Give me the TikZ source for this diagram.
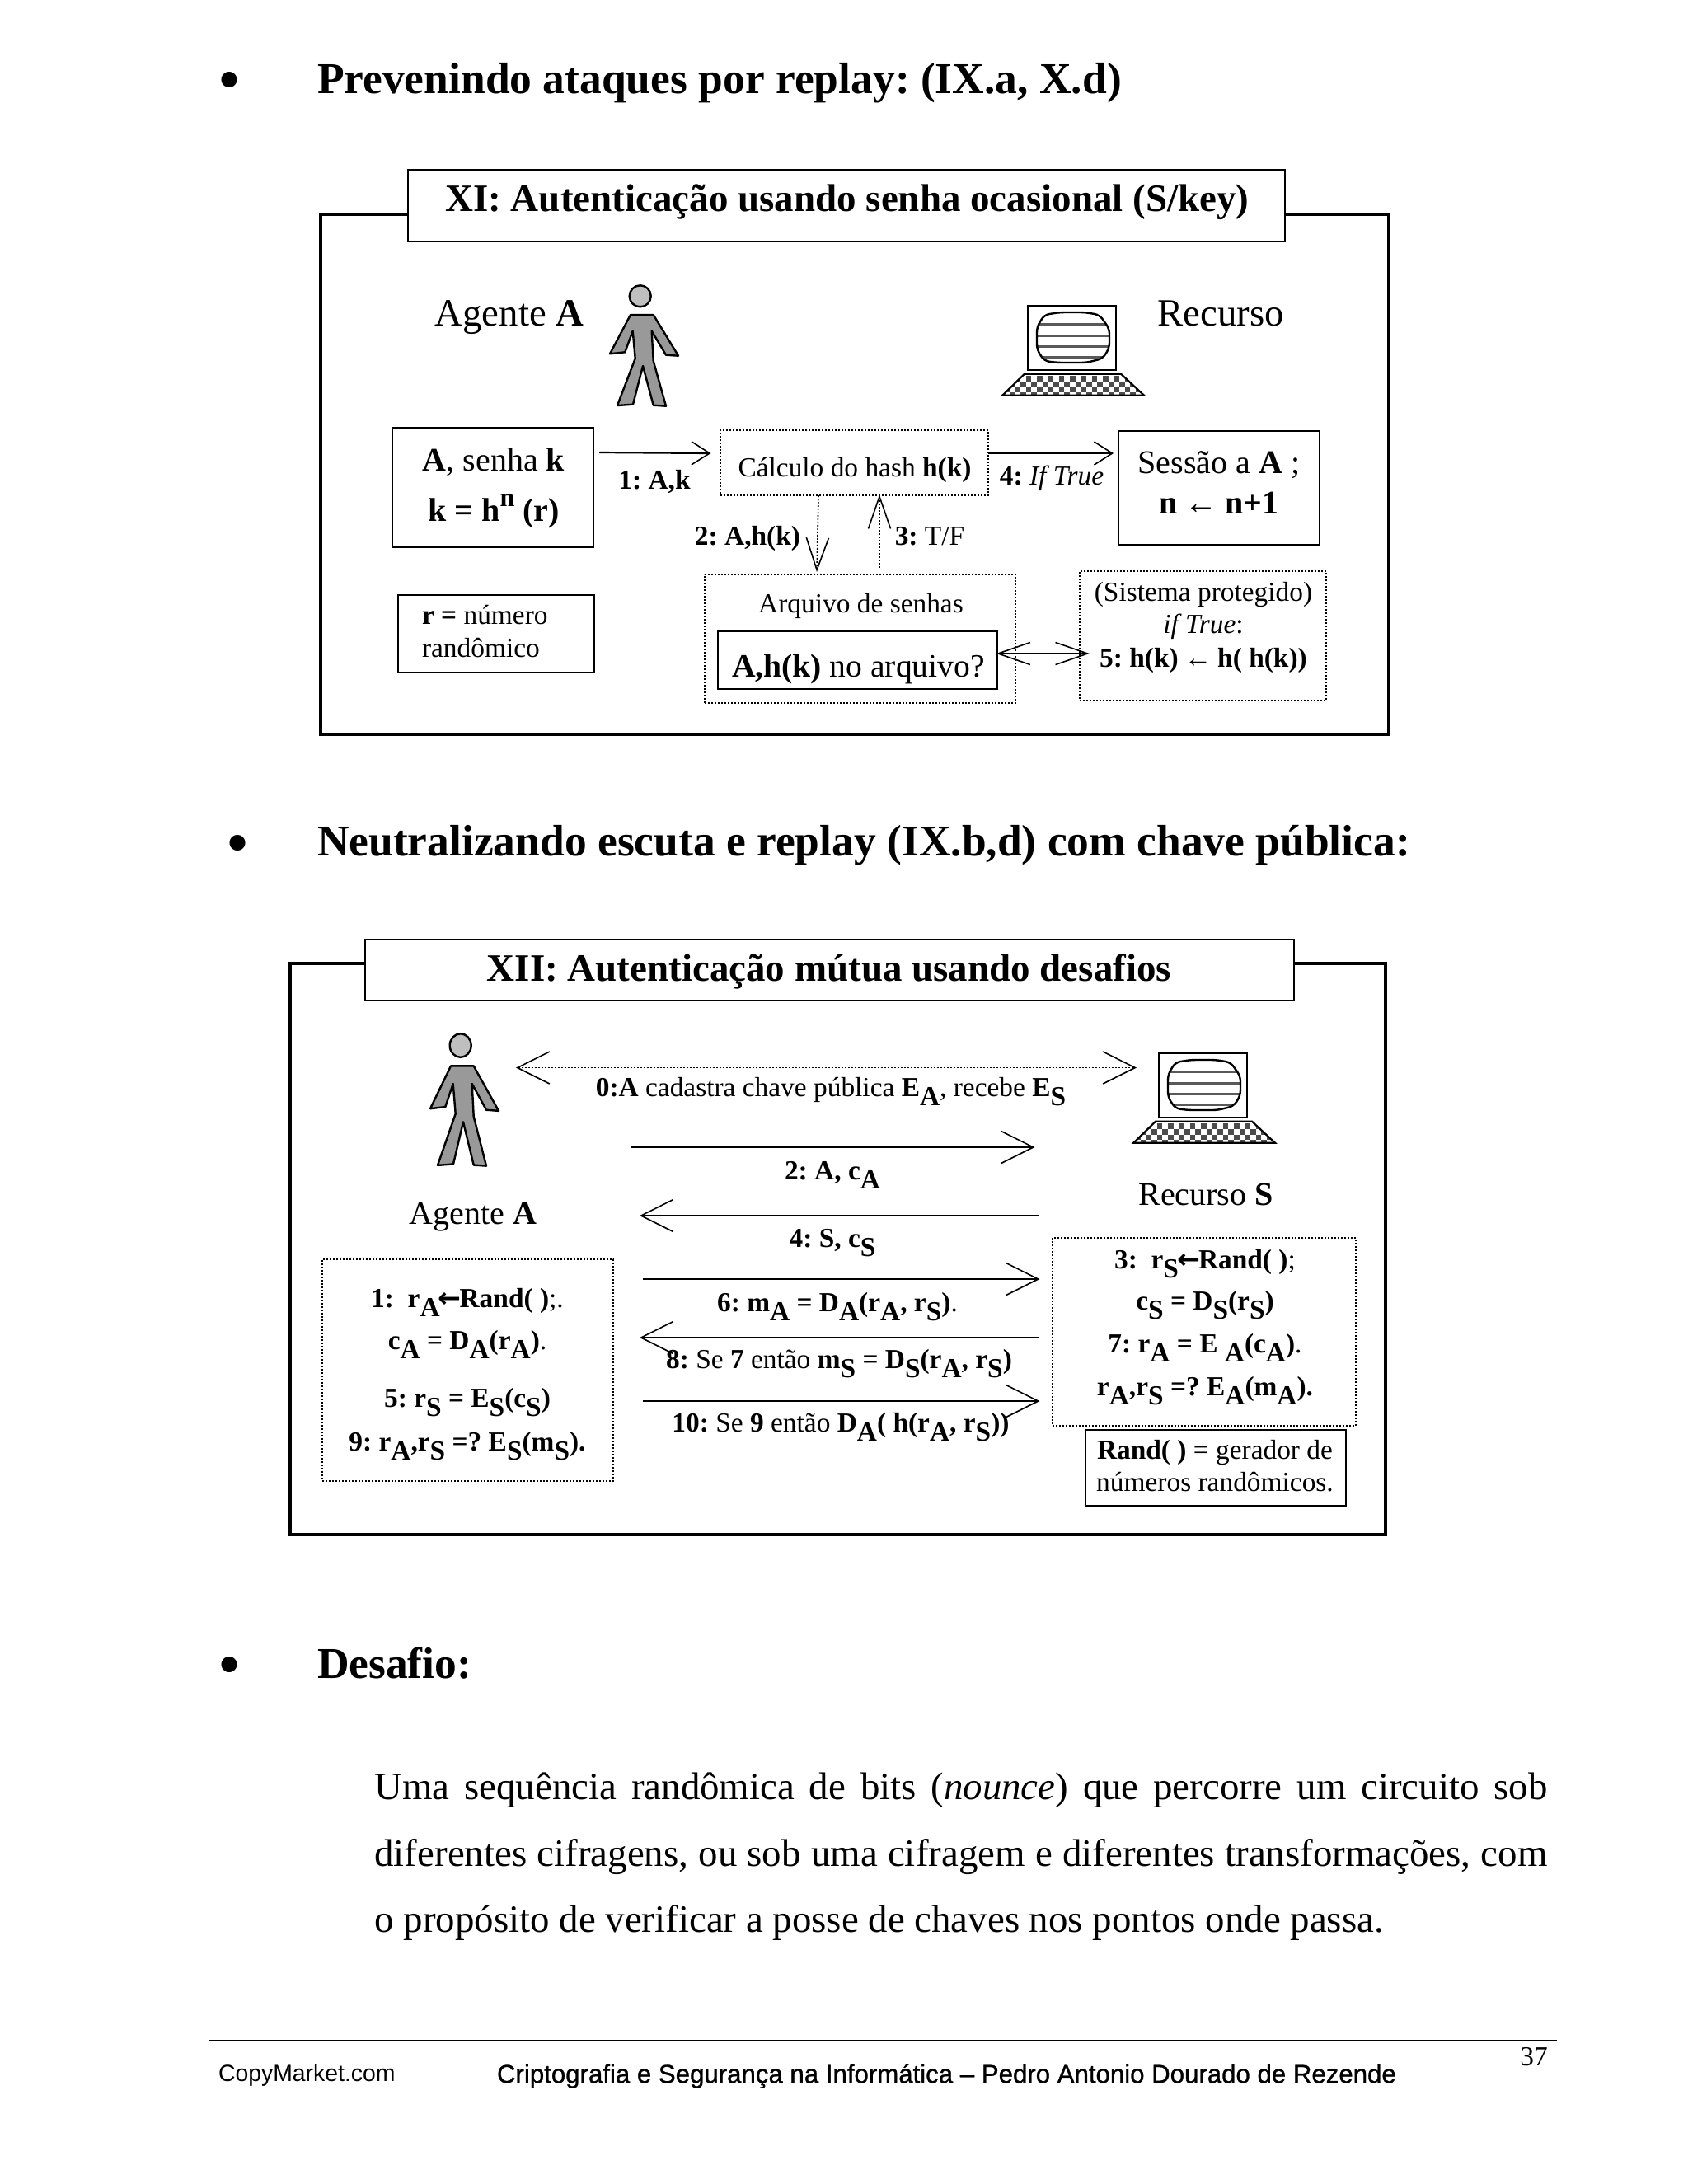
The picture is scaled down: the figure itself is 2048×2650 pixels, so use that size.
\documentclass[tikz,border=0pt]{standalone}
\usepackage{fontspec}
\setmainfont{Liberation Serif}
\newfontfamily\footf{Liberation Sans}
\newfontfamily\footb[FakeBold=0.9]{Liberation Sans}
\newfontfamily\djv{DejaVu Sans}
\usetikzlibrary{arrows.meta}
\newcommand\sbx[1]{\raisebox{-.33em}{\textbf{#1}}}
\newcommand\fsz[1]{\fontsize{#1}{#1}\selectfont}
\newcommand\larr{\kern-.06em{\djv\bfseries←}\kern-.06em}
\newcommand\sarr{\kern-.04em←\kern-.04em}
\newcommand\bx[6]{\node[#1,minimum width={(#5-#3)*0.5pt},minimum height={(#6-#4)*0.5pt}] (#2) at ({(#3+#5)/2},{(#4+#6)/2}) {};}
\tikzset{
  x=0.5pt,y=-0.5pt,
  txt/.style={inner sep=0pt,outer sep=0pt},
  h1/.style={txt,anchor=west,font=\fsz{26.75}\bfseries},
  bul/.style={txt,font=\fsz{40}},
  tit/.style={txt,font=\fsz{23.5}\bfseries},
  big/.style={txt,font=\fsz{23.4}},
  mid/.style={txt,font=\fsz{20}},
  sm/.style={txt,font=\fsz{16.7}},
  body/.style={txt,anchor=west,font=\fsz{23.45}},
  frame/.style={draw=black,line width=1.6pt},
  solidbox/.style={draw=black,line width=1.1pt,inner sep=0pt,outer sep=0pt,fill=white},
  titlebox/.style={draw=black,line width=.8pt,inner sep=0pt,outer sep=0pt,fill=white},
  dotbox/.style={draw=black,line width=.9pt,dash pattern=on 1pt off 1pt,inner sep=0pt,outer sep=0pt},
  line/.style={draw=black,line width=1.1pt},
  dotline/.style={draw=black,line width=.8pt,dash pattern=on 1pt off 1pt},
  tipA/.tip={Straight Barb[length=19.5pt,width=19.5pt,line width=.8pt]},
  tipB/.tip={Straight Barb[length=11pt,width=14pt,line width=.8pt]},
  tipC/.tip={Straight Barb[length=19.5pt,width=13.5pt,line width=.8pt]},
  person/.pic={
    \draw[line width=1.2pt,fill=black!40,line join=round]
      (-13,36)--(14.7,36)--(45,85.7)--(30,84.7)--(12.7,55.7)--(14.7,92)--(30,146.7)--(14.7,145.7)--(2,98)--(-10,144.7)--(-29,146)--(-7.3,89)--(-10.3,55.7)--(-19.7,81.3)--(-38,83.3)--cycle;
    \draw[line width=1.2pt,fill=black!25] (-1.3,13.3) ellipse (13 and 13);
  },
  computer/.pic={
    \draw[line width=1.2pt,fill=white] (0,0) rectangle (107,78);
    \begin{scope}
      \clip[rounded corners=3pt] (11,26)--(20,11)--(39,8)--(69,8)--(87,11)--(99,28)--(99,51)--(91,64)--(71,69)--(36,69)--(20,67)--(11,53)--cycle;
      \foreach \s in {22.7,36,49.3,62.7} \draw[line width=1.5pt,black!65] (5,\s) -- (105,\s);
    \end{scope}
    \draw[line width=1.2pt,rounded corners=3pt] (11,26)--(20,11)--(39,8)--(69,8)--(87,11)--(99,28)--(99,51)--(91,64)--(71,69)--(36,69)--(20,67)--(11,53)--cycle;
    \begin{scope}
      \clip (-4,82.7) -- (113,82.7) -- (141,108.7) -- (-30.7,108.7) -- cycle;
      \foreach \i in {-5,...,23} \foreach \j in {0,...,3} {
        \pgfmathtruncatemacro\k{\i+\j}
        \ifodd\k\relax\else \fill[black!70] ({-2.3+\i*6.67},{85.3+\j*6.67}) rectangle ({-2.3+\i*6.67+6.67},{85.3+\j*6.67+6.67}); \fi
      }
    \end{scope}
    \draw[line width=1.1pt] (-4,82.7) -- (113,82.7) -- (141,108.7) -- (-30.7,108.7) -- cycle;
  }
}
\begin{document}
\frenchspacing
\begin{tikzpicture}
\useasboundingbox (0,0) rectangle (2048,2650);
\fill[white] (0,0) rectangle (2048,2650);

% headings
\node[bul] (b1) at (278,105) {•};
\node[h1] (h1t) at (385,101) {Prevenindo ataques por replay: (IX.a, X.d)};
\node[bul] (b2) at (289,1031) {•};
\node[h1] (h2t) at (385,1026) {Neutralizando escuta e replay (IX.b,d) com chave pública:};
\node[bul] (b3) at (278,2028) {•};
\node[h1] (h3t) at (385,2018) {Desafio:};

% diagram XI
\draw[frame] (389,260) rectangle (1685,891);
\bx{titlebox}{t1}{495}{206}{1559}{293}
\node[tit] (t1t) at (1028,245) {XI: Autenticação usando senha ocasional (S/key)};
\pic at (778,346) {person};
\pic at (1247,371) {computer};
\node[big] (ag1) at (618,385) {Agente \textbf{A}};
\node[big] (rc1) at (1481,380) {Recurso};
\bx{solidbox}{boxA}{476}{519}{720}{664}
\node[mid] (a1t) at (599,561) {\textbf{A}, senha \textbf{k}};
\node[mid] (a2t) at (599,620) {\textbf{k = h{\fsz{16}\raisebox{.55em}{n}} (r)}};
\bx{dotbox}{hash}{874}{522}{1199}{601}
\node[sm] (hasht) at (1037,570) {Cálculo do hash \textbf{h(k)}};
\bx{solidbox}{sess}{1357}{523}{1601}{661}
\node[mid] (s1t) at (1479,564) {Sessão a \textbf{A} ;};
\node[mid] (s2t) at (1479,610) {\textbf{n \sarr{} n+1}};
\bx{solidbox}{rbox}{483}{722}{721}{816}
\node[sm,anchor=west] (r1t) at (512,746) {\textbf{r =} número};
\node[sm,anchor=west] (r2t) at (512,786) {randômico};
\bx{dotbox}{file}{855}{697}{1232}{853}
\node[sm] (ft) at (1044.5,735) {Arquivo de senhas};
\bx{solidbox}{inner}{871}{766}{1210}{836}
\node[txt,font=\fsz{19.8}] (innert) at (1041.5,812) {\textbf{A,h(k)} no arquivo?};
\bx{dotbox}{prot}{1310}{693}{1609}{850}
\node[sm] (p1t) at (1460,722) {(Sistema protegido)};
\node[sm] (p2t) at (1460,760) {\textit{if True}:};
\node[sm] (p3t) at (1460,801) {\textbf{5: h(k) \sarr{} h( h(k))}};
\node[sm] (l1) at (794,584) {\textbf{1: A,k}};
\node[sm] (l4) at (1276,580) {\textbf{4:} \textit{If True}};
\node[sm] (l2) at (907,653) {\textbf{2: A,h(k)}};
\node[sm] (l3) at (1128,651) {\textbf{3:} T/F};
\coordinate (a1s) at (727,549);
\coordinate (a1e) at (862.5,550);
\draw[line,-{tipB}] (a1s) -- (a1e);
\coordinate (a4e) at (1351,550);
\draw[line,-{tipB}] (hash.east |- a4e) -- (a4e);
\coordinate (a2s) at (993,601);
\coordinate (a2e) at (991,694);
\draw[dotline,-{tipC}] (a2s) -- (a2e);
\coordinate (a3s) at (1067,689);
\coordinate (a3e) at (1067,600);
\draw[dotline,-{tipC}] (a3s) -- (a3e);
\coordinate (d1s) at (1208.5,793);
\coordinate (d1e) at (1322,793);
\draw[line,{tipC}-{tipC}] (d1s) -- (d1e);

% diagram XII
\draw[frame] (352,1169) rectangle (1681,1862);
\bx{titlebox}{t2}{443}{1140}{1570}{1214}
\node[tit] (t2t) at (1006,1179) {XII: Autenticação mútua usando desafios};
\pic[yscale=1.095] at (560,1254) {person};
\pic at (1406,1278) {computer};
\node[mid] (ag2) at (574,1477) {Agente \textbf{A}};
\node[mid] (rc2) at (1463,1449) {Recurso \textbf{S}};
\node[sm] (l0) at (1008,1325) {\textbf{0:A} cadastra chave pública \textbf{E\sbx{A}}, recebe \textbf{E\sbx{S}}};
\node[sm] (l22) at (1010,1426) {\textbf{2: A, c\sbx{A}}};
\node[sm] (l24) at (1010,1508) {\textbf{4: S, c\sbx{S}}};
\node[sm] (l26) at (1016,1586) {\textbf{6: m\sbx{A} = D\sbx{A}(r\sbx{A}, r\sbx{S})}.};
\node[sm] (l28) at (1018,1655) {\textbf{8:} Se \textbf{7} então \textbf{m\sbx{S} = D\sbx{S}(r\sbx{A}, r\sbx{S})}};
\node[sm] (l210) at (1020,1732) {\textbf{10:} Se \textbf{9} então \textbf{D\sbx{A}( h(r\sbx{A}, r\sbx{S}))}};
\coordinate (b0s) at (626,1295.5);
\coordinate (b0e) at (1379,1295.5);
\draw[dotline,{tipA}-{tipA}] (b0s) -- (b0e);
\coordinate (b2s) at (766,1392);
\coordinate (b2e) at (1255.5,1392);
\draw[line,-{tipA}] (b2s) -- (b2e);
\coordinate (b4s) at (1260,1475);
\coordinate (b4e) at (776,1475);
\draw[line,-{tipA}] (b4s) -- (b4e);
\coordinate (b6s) at (780,1552);
\coordinate (b6e) at (1261.5,1552);
\draw[line,-{tipA}] (b6s) -- (b6e);
\coordinate (b8s) at (1260,1623);
\coordinate (b8e) at (776,1623);
\draw[line,-{tipA}] (b8s) -- (b8e);
\coordinate (b10s) at (780,1700);
\coordinate (b10e) at (1261.5,1700);
\draw[line,-{tipA}] (b10s) -- (b10e);
\bx{dotbox}{lbox}{391}{1528}{744}{1797}
\node[sm] (la) at (567,1580) {\textbf{1:\ \ r\sbx{A}\larr{}Rand( )};.};
\node[sm] (lb) at (567,1631) {\textbf{c\sbx{A} = D\sbx{A}(r\sbx{A})}.};
\node[sm] (lc) at (567,1702) {\textbf{5: r\sbx{S} = E\sbx{S}(c\sbx{S})}};
\node[sm] (ld) at (567,1755) {\textbf{9: r\sbx{A},r\sbx{S} =? E\sbx{S}(m\sbx{S}).}};
\bx{dotbox}{rboxx}{1277}{1502}{1645}{1730}
\node[sm] (ra) at (1462,1534) {\textbf{3:\ \ r\sbx{S}\larr{}Rand( )};};
\node[sm] (rb) at (1462,1584) {\textbf{c\sbx{S} = D\sbx{S}(r\sbx{S})}};
\node[sm] (rc) at (1462,1635) {\textbf{7: r\sbx{A} = E \sbx{A}(c\sbx{A})}.};
\node[sm] (rd) at (1462,1688) {\textbf{r\sbx{A},r\sbx{S} =? E\sbx{A}(m\sbx{A}).}};
\bx{solidbox}{randb}{1317}{1735}{1633}{1827}
\node[sm] (rn1) at (1474,1762) {\textbf{Rand( )} = gerador de};
\node[sm] (rn2) at (1474,1798) {números randômicos.};

% body text
\node[body] (p1) at (454.5,2172) {\makebox[711.5pt][s]{Uma sequência randômica de bits (\textit{nounce}) que percorre um circuito sob}};
\node[body] (p2) at (454.5,2253) {\makebox[711.5pt][s]{diferentes cifragens, ou sob uma cifragem e diferentes transformações, com}};
\node[body] (p3) at (454.5,2333) {o propósito de verificar a posse de chaves nos pontos onde passa.};

% footer
\coordinate (fl) at (253,2476);
\coordinate (fr) at (1889,2476);
\draw[line width=1.1pt] (fl) -- (fr);
\node[txt,anchor=west,font=\footf\fsz{14.2}] (f1) at (265,2518) {CopyMarket.com};
\node[txt,anchor=west,font=\footb\fsz{15.6}] (f2) at (603,2519) {Criptografia e Segurança na Informática – Pedro Antonio Dourado de Rezende};
\node[sm] (f3) at (1861,2496) {37};
\end{tikzpicture}
\end{document}
